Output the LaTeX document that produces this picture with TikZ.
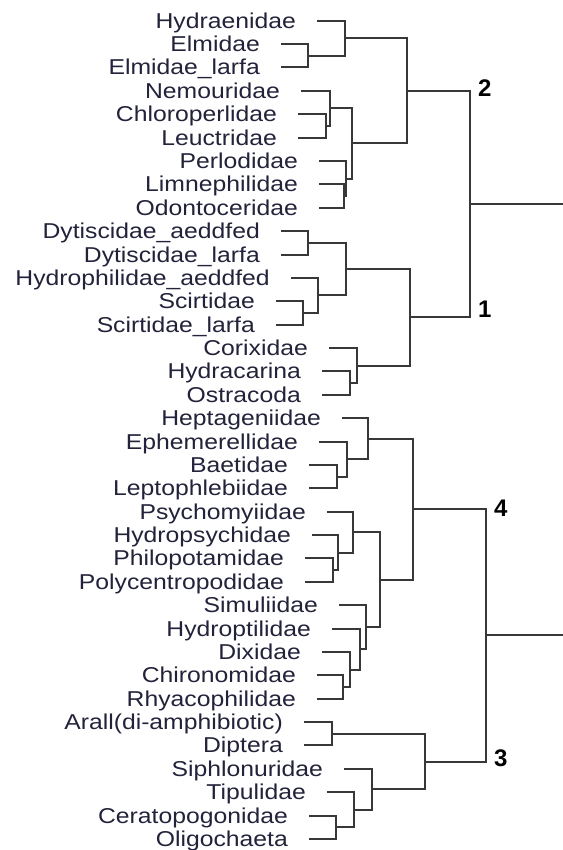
\documentclass[tikz,border=0pt]{standalone}
\usepackage{fontspec}
\usetikzlibrary{calc}
\newfontfamily\labfont[FakeStretch=1.15]{Liberation Sans}
\newfontfamily\numfont{Liberation Sans}
\definecolor{labcol}{HTML}{22223A}
\definecolor{brcol}{HTML}{383838}
\newcommand\mrg[4]{%
  \path let \p1=($(#3)!0.5!(#4)$) in coordinate (#1) at (#2pt,\y1);
  \draw[br] (#3) -- (#3 -| #1) -- (#4 -| #1) -- (#4);
}
\begin{document}
\begin{tikzpicture}[x=1pt,y=-1pt,
  lab/.style={font={\labfont\fontsize{21.5}{21.5}\selectfont}, text=labcol, inner sep=0pt, anchor=base east},
  num/.style={font={\numfont\bfseries\fontsize{24}{24}\selectfont}, text=black, inner sep=0pt, anchor=west},
  br/.style={draw=brcol, line width=2pt, line cap=rect, line join=miter}]
\useasboundingbox (0,0) rectangle (562,850);
\foreach \i/\t/\lx in {
  0/Hydraenidae/318, 1/Elmidae/282, 2/Elmidae\_larfa/282, 3/Nemouridae/302,
  4/Chloroperlidae/299, 5/Leuctridae/299, 6/Perlodidae/320, 7/Limnephilidae/320,
  8/Odontoceridae/320, 9/Dytiscidae\_aeddfed/282, 10/Dytiscidae\_larfa/282,
  11/Hydrophilidae\_aeddfed/292, 12/Scirtidae/277, 13/Scirtidae\_larfa/277,
  14/Corixidae/330, 15/Hydracarina/323, 16/Ostracoda/323, 17/Heptageniidae/343,
  18/Ephemerellidae/320, 19/Baetidae/310, 20/Leptophlebiidae/310,
  21/Psychomyiidae/328, 22/Hydropsychidae/313, 23/Philopotamidae/306,
  24/Polycentropodidae/306, 25/Simuliidae/340, 26/Hydroptilidae/333,
  27/Dixidae/323, 28/Chironomidae/318, 29/Rhyacophilidae/318,
  30/Arall(di-amphibiotic)/305, 31/Diptera/305, 32/Siphlonuridae/345,
  33/Tipulidae/328, 34/Ceratopogonidae/310, 35/Oligochaeta/310}{
  \pgfmathsetmacro\yy{20.7+23.38*\i}
  \coordinate (l\i) at (\lx,\yy);
  \node[lab] (t\i) at (\lx-22,\yy+7.5) {\t};
}
% cluster 2
\mrg{A}{308}{l1}{l2}
\mrg{B}{345}{l0}{A}
\mrg{C}{326}{l4}{l5}
\mrg{D}{330}{l3}{C}
\mrg{E1}{344}{l7}{l8}
\mrg{E}{346}{l6}{E1}
\mrg{F}{352}{D}{E}
\mrg{G}{407}{B}{F}
% cluster 1
\mrg{H}{308}{l9}{l10}
\mrg{I}{303}{l12}{l13}
\mrg{J}{318}{l11}{I}
\mrg{K}{346}{H}{J}
\mrg{L}{350}{l15}{l16}
\mrg{M}{357}{l14}{L}
\mrg{N}{410}{K}{M}
\mrg{R1}{470}{G}{N}
\path let \p1=(R1) in coordinate (R1e) at (562pt,\y1);
\draw[br] (R1) -- (R1e);
% cluster 4
\mrg{P}{337}{l19}{l20}
\mrg{Q}{347}{l18}{P}
\mrg{R}{368}{l17}{Q}
\mrg{S}{333}{l23}{l24}
\mrg{T}{338}{l22}{S}
\mrg{U}{353}{l21}{T}
\mrg{V}{343}{l28}{l29}
\mrg{W}{350}{l27}{V}
\mrg{X}{360}{l26}{W}
\mrg{Y}{366}{l25}{X}
\mrg{Z}{380}{U}{Y}
\mrg{AA}{413}{R}{Z}
% cluster 3
\mrg{AB}{332}{l30}{l31}
\mrg{AC}{336}{l34}{l35}
\mrg{AD}{354}{l33}{AC}
\mrg{AE}{372}{l32}{AD}
\mrg{AF}{425}{AB}{AE}
\mrg{R2}{486}{AA}{AF}
\path let \p1=(R2) in coordinate (R2e) at (562pt,\y1);
\draw[br] (R2) -- (R2e);
% cluster numbers
\node[num] (n2) at (478,88.5) {2};
\node[num] (n1) at (478,309) {1};
\node[num] (n4) at (494,508) {4};
\node[num] (n3) at (494,758.5) {3};
\end{tikzpicture}
\end{document}
